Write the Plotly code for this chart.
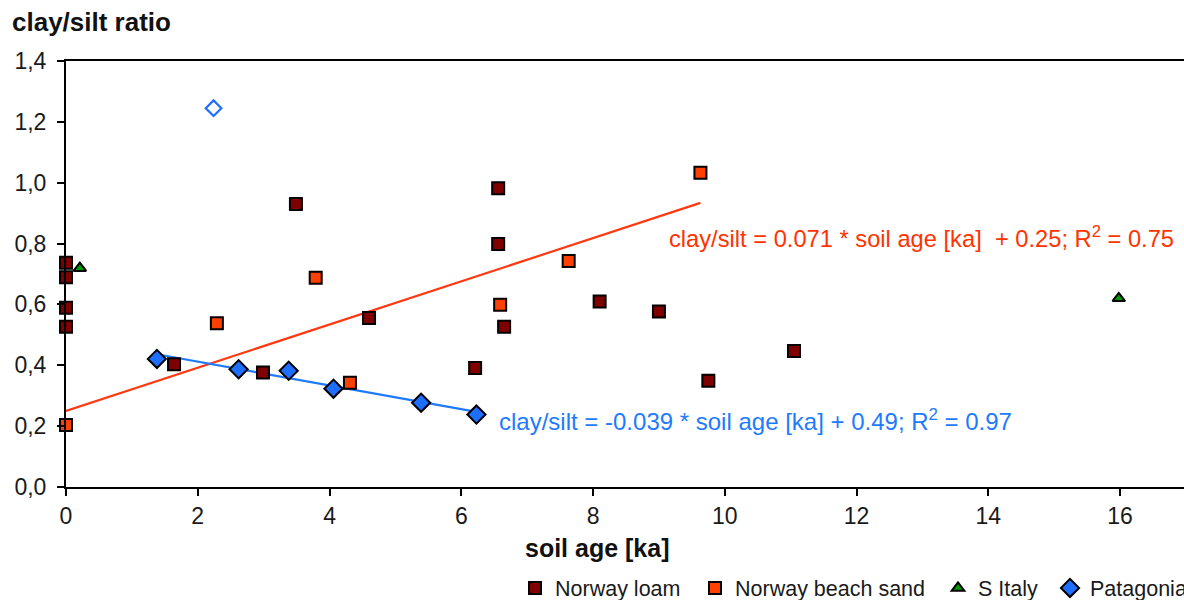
import plotly.graph_objects as go

# ---- data ----
loam_age = [0.0, 0.0, 0.0, 0.0, 1.64, 2.99, 3.49, 4.60, 6.21, 6.56, 6.56, 6.65, 8.10, 9.00, 9.75, 11.05]
loam_ratio = [0.737, 0.689, 0.589, 0.527, 0.403, 0.376, 0.930, 0.555, 0.391, 0.982, 0.799, 0.527, 0.610, 0.577, 0.349, 0.447]

sand_age = [0.0, 2.29, 3.79, 4.31, 6.59, 7.63, 9.63]
sand_ratio = [0.204, 0.538, 0.688, 0.343, 0.599, 0.743, 1.033]

italy_age = [0.21, 15.98]
italy_ratio = [0.719, 0.620]

pata_age = [1.38, 2.62, 3.38, 4.06, 5.39, 6.23]
pata_ratio = [0.421, 0.387, 0.382, 0.323, 0.277, 0.238]

pata_outlier_age = [2.24]
pata_outlier_ratio = [1.245]

sand_fit = {"slope": 0.071, "intercept": 0.25}
pata_fit = {"slope": -0.039, "intercept": 0.49}

y_ticks = [0.0, 0.2, 0.4, 0.6, 0.8, 1.0, 1.2, 1.4]
x_ticks = [0, 2, 4, 6, 8, 10, 12, 14, 16]

# ---- styles ----
C_LOAM = "#7F0000"
C_SAND = "#FF4000"
C_ITALY = "#009900"
C_PATA = "#1E6FFF"
C_RED_LINE = "#FF3A12"
C_BLUE_LINE = "#1E7BFF"
FONT = "Liberation Sans, Arial, sans-serif"

fig = go.Figure()

# trend lines
sx = [min(sand_age), max(sand_age)]
fig.add_trace(go.Scatter(x=sx, y=[sand_fit["slope"] * v + sand_fit["intercept"] for v in sx],
                         mode="lines", line=dict(color=C_RED_LINE, width=2.2),
                         showlegend=False, hoverinfo="skip"))
px_ = [min(pata_age), max(pata_age)]
fig.add_trace(go.Scatter(x=px_, y=[pata_fit["slope"] * v + pata_fit["intercept"] for v in px_],
                         mode="lines", line=dict(color=C_BLUE_LINE, width=2.2),
                         showlegend=False, hoverinfo="skip"))

fig.add_trace(go.Scatter(x=loam_age, y=loam_ratio, mode="markers", name="Norway loam",
                         legend="legend", cliponaxis=False,
                         marker=dict(symbol="square", size=12, color=C_LOAM,
                                     line=dict(color="black", width=2))))
fig.add_trace(go.Scatter(x=sand_age, y=sand_ratio, mode="markers", name="Norway beach sand",
                         legend="legend2", cliponaxis=False,
                         marker=dict(symbol="square", size=12, color=C_SAND,
                                     line=dict(color="black", width=2))))
fig.add_trace(go.Scatter(x=italy_age, y=italy_ratio, mode="markers", name="S Italy",
                         legend="legend3", cliponaxis=False,
                         marker=dict(symbol="triangle-up", size=11, color=C_ITALY,
                                     line=dict(color="black", width=2))))
fig.add_trace(go.Scatter(x=pata_age, y=pata_ratio, mode="markers", name="Patagonia",
                         legend="legend4", cliponaxis=False,
                         marker=dict(symbol="diamond", size=14, color=C_PATA,
                                     line=dict(color="black", width=2))))
fig.add_trace(go.Scatter(x=pata_outlier_age, y=pata_outlier_ratio, mode="markers",
                         showlegend=False, cliponaxis=False,
                         marker=dict(symbol="diamond-open", size=12, color=C_PATA,
                                     line=dict(color=C_PATA, width=2.2))))

fig.add_annotation(x=9.13, y=0.82, xref="x", yref="y", xanchor="left", yanchor="middle",
                   text="clay/silt = 0.071 * soil age [ka]  + 0.25; R<sup>2</sup> = 0.75",
                   showarrow=False, font=dict(family=FONT, size=23.7, color="#FF3300"))
fig.add_annotation(x=6.54, y=0.22, xref="x", yref="y", xanchor="left", yanchor="middle",
                   text="clay/silt = -0.039 * soil age [ka] + 0.49; R<sup>2</sup> = 0.97",
                   showarrow=False, font=dict(family=FONT, size=24, color="#1E7BFF"))

# x-axis title
fig.add_annotation(x=(597 - 66) / 1118, y=-(548 - 487) / 426, xref="paper", yref="paper",
                   xanchor="center", yanchor="middle", showarrow=False,
                   text="<b>soil age [ka]</b>",
                   font=dict(family=FONT, size=25, color="#111111"))

leg_common = dict(orientation="h", y=-(588 - 487) / 426, xanchor="left", yanchor="middle",
                  font=dict(size=21.5, family=FONT, color="#1a1a1a"),
                  bgcolor="rgba(0,0,0,0)", itemwidth=30)

fig.update_layout(
    width=1184, height=600,
    margin=dict(l=66, r=0, t=61, b=113, autoexpand=False),
    paper_bgcolor="white", plot_bgcolor="white",
    separators=", ",
    font=dict(family=FONT, color="#1a1a1a"),
    title=dict(text="<b>clay/silt ratio</b>", x=12 / 1184, y=1 - 22 / 600,
               xref="container", yref="container", xanchor="left", yanchor="middle",
               font=dict(family=FONT, size=26, color="#111111")),
    xaxis=dict(range=[0, 16.97], tickvals=x_ticks, ticktext=[str(v) for v in x_ticks],
               showgrid=False, zeroline=False, showline=True, linecolor="black", linewidth=2,
               mirror=True, ticks="outside", ticklen=7, tickwidth=1.5, tickcolor="black",
               tickfont=dict(size=23, family=FONT, color="#1a1a1a")),
    yaxis=dict(range=[0, 1.4], tickvals=y_ticks, tickformat=".1f",
               showgrid=False, zeroline=False, showline=True, linecolor="black", linewidth=2,
               mirror=False, ticks="outside", ticklen=7, tickwidth=1.5, tickcolor="black",
               ticklabelstandoff=6,
               tickfont=dict(size=23, family=FONT, color="#1a1a1a")),
    legend=dict(x=(515 - 66) / 1118, **leg_common),
    legend2=dict(x=(695 - 66) / 1118, **leg_common),
    legend3=dict(x=(938 - 66) / 1118, **leg_common),
    legend4=dict(x=(1050 - 66) / 1118, **leg_common),
    showlegend=True,
)

fig.write_html("out.html")
